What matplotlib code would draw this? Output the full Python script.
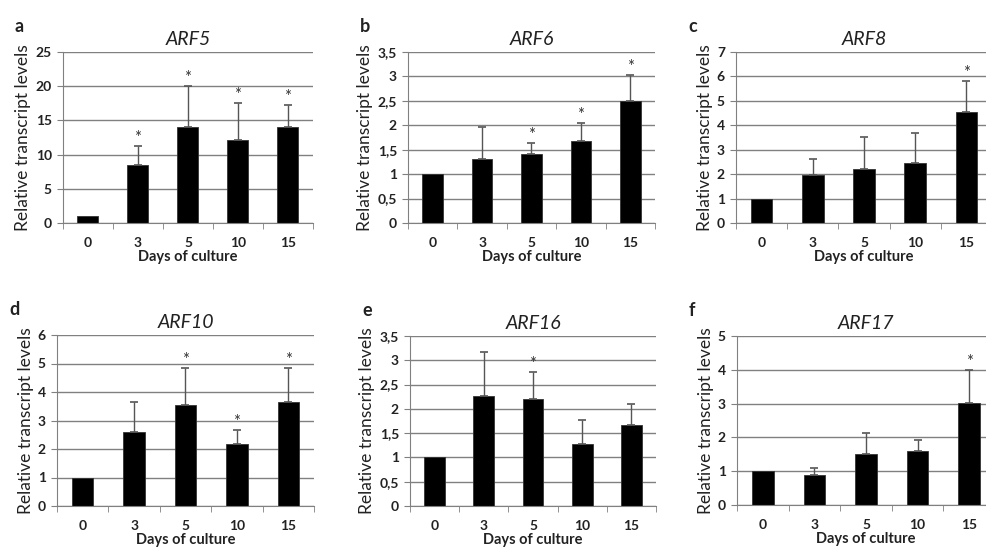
import matplotlib
matplotlib.use("Agg")
import matplotlib.pyplot as plt
import numpy as np
from matplotlib.ticker import FuncFormatter

plt.rcParams["font.family"] = ["Lato", "DejaVu Sans"]

days = ["0", "3", "5", "10", "15"]

# Mean relative transcript levels per gene
arf5 = [1.0, 8.5, 14.0, 12.2, 14.0]
arf6 = [1.0, 1.32, 1.42, 1.68, 2.49]
arf8 = [1.0, 1.96, 2.23, 2.44, 4.53]
arf10 = [1.0, 2.61, 3.53, 2.19, 3.66]
arf16 = [1.0, 2.26, 2.20, 1.28, 1.66]
arf17 = [1.0, 0.89, 1.50, 1.60, 3.03]

# Top of the error bars (upper SD only)
arf5_top = [1.0, 11.3, 20.0, 17.5, 17.3]
arf6_top = [1.0, 1.97, 1.64, 2.05, 3.02]
arf8_top = [1.0, 2.62, 3.53, 3.70, 5.82]
arf10_top = [1.0, 3.66, 4.83, 2.68, 4.83]
arf16_top = [1.0, 3.17, 2.76, 1.78, 2.11]
arf17_top = [1.0, 1.10, 2.12, 1.92, 3.99]

# Significance marks
arf5_sig = [False, True, True, True, True]
arf6_sig = [False, False, True, True, True]
arf8_sig = [False, False, False, False, True]
arf10_sig = [False, False, True, True, True]
arf16_sig = [False, False, True, False, False]
arf17_sig = [False, False, False, False, True]

W, H = 987, 551
fig = plt.figure(figsize=(W / 100, H / 100), dpi=100)


def px_axes(left, top, right, bottom):
    return fig.add_axes([left / W, 1 - bottom / H, (right - left) / W, (bottom - top) / H])


panels = [
    ("a", "ARF5", arf5, arf5_top, arf5_sig, 25, 5, (63, 52, 313, 223)),
    ("b", "ARF6", arf6, arf6_top, arf6_sig, 3.5, 0.5, (408, 52, 655, 223)),
    ("c", "ARF8", arf8, arf8_top, arf8_sig, 7, 1, (736, 52, 992, 223)),
    ("d", "ARF10", arf10, arf10_top, arf10_sig, 6, 1, (57, 335, 314, 506)),
    ("e", "ARF16", arf16, arf16_top, arf16_sig, 3.5, 0.5, (410, 336, 656, 506)),
    ("f", "ARF17", arf17, arf17_top, arf17_sig, 5, 1, (737, 336, 995, 505)),
]

comma = FuncFormatter(lambda v, _: (f"{v:g}").replace(".", ","))

for letter, gene, vals, tops, sig, ymax, step, box in panels:
    ax = px_axes(*box)
    x = np.arange(len(days))
    vals = np.array(vals)
    err = np.array(tops) - vals
    has_err = err > 0
    ax.set_axisbelow(True)
    ax.grid(axis="y", color="#808080", linewidth=1.0)
    ax.bar(x, vals, width=0.42, color="black", edgecolor="#333333", linewidth=0.6, zorder=2)
    ax.errorbar(x[has_err], vals[has_err],
                yerr=[np.zeros(has_err.sum()), err[has_err]], fmt="none",
                ecolor="#555555", elinewidth=1.0, capsize=3, capthick=1.2, zorder=3)
    for xi, t, s in zip(x, tops, sig):
        if s:
            ax.annotate("*", (xi, t), textcoords="offset points", xytext=(0, 0),
                        ha="center", va="bottom", fontsize=12, color="#333333")
    ax.set_xlim(-0.5, len(days) - 0.5)
    ax.set_ylim(0, ymax)
    ax.set_yticks(np.arange(0, ymax + step / 2, step))
    ax.yaxis.set_major_formatter(comma)
    ax.set_xticks(x)
    ax.set_xticklabels(days)
    ax.set_xticks(np.arange(-0.5, len(days)), minor=True)
    ax.tick_params(axis="x", which="major", length=0, pad=10, labelsize=10)
    ax.tick_params(axis="x", which="minor", length=4, color="#808080")
    ax.tick_params(axis="y", length=4, color="#808080", labelsize=10, pad=4)
    for lab in ax.get_xticklabels() + ax.get_yticklabels():
        lab.set_fontweight("bold")
        lab.set_color("#222222")
    for side in ("top", "right"):
        ax.spines[side].set_visible(False)
    for side in ("left", "bottom"):
        ax.spines[side].set_color("#808080")
    ax.set_title(gene, fontstyle="italic", fontsize=14, pad=5, color="#222222")
    ax.set_xlabel("Days of culture", fontweight="bold", fontsize=10.5, labelpad=1, color="#222222")
    ax.set_ylabel("Relative transcript levels", fontsize=12.5, labelpad=3, color="#222222")
    l, t = box[0], box[1]
    fig.text((l - 48) / W, 1 - (t - 34) / H, letter, fontweight="bold", fontsize=13,
             ha="left", va="top", color="#222222")

fig.savefig("out.png", dpi=100)
